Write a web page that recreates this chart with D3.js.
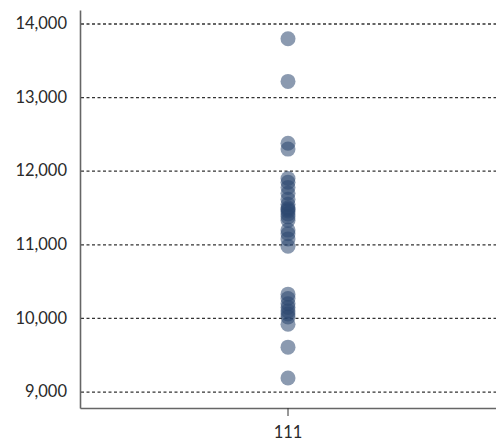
<!DOCTYPE html>
<html>
<head>
<meta charset="utf-8">
<script src="https://cdn.jsdelivr.net/npm/d3@7"></script>
<style>
  body { margin: 0; background: #fff; }
  text { font-family: Lato, "Open Sans", sans-serif; }
</style>
</head>
<body>
<div id="grafico"></div>
<script>
const categorias = ["111"];
const valores = [13800, 13220, 12380, 12300, 11900, 11850, 11780, 11700, 11620, 11550,
                 11500, 11480, 11460, 11420, 11380, 11330, 11200, 11150, 11080, 10980,
                 10330, 10270, 10200, 10150, 10100, 10060, 10020, 9920, 9610, 9190];
const ticksY = [9000, 10000, 11000, 12000, 13000, 14000];

const margin = { top: 10, right: 0, bottom: 35, left: 80 };
const width = 496 - margin.left - margin.right;
const height = 443 - margin.top - margin.bottom;

const svg = d3.select("#grafico")
    .append("svg")
    .attr("width", width + margin.left + margin.right)
    .attr("height", height + margin.top + margin.bottom)
    .append("g")
    .attr("transform", `translate(${margin.left}, ${margin.top})`);

const y = d3.scaleLinear()
    .domain([8783, 14190])
    .range([height, 0]);

const x = d3.scaleBand()
    .domain(categorias)
    .range([0, width]);

// lineas de grilla punteadas
svg.selectAll(".grid")
    .data(ticksY)
    .enter()
    .append("line")
    .attr("x1", 1)
    .attr("x2", width)
    .attr("y1", d => y(d))
    .attr("y2", d => y(d))
    .attr("stroke", "#333")
    .attr("stroke-width", 1.3)
    .attr("stroke-dasharray", "3,2.5");

const ejeY = svg.append("g")
    .call(d3.axisLeft(y).tickValues(ticksY).tickFormat(d3.format(",")).tickSize(0).tickPadding(13))
    .attr("font-size", "16.5px");
ejeY.select(".domain").attr("stroke", "#666").attr("stroke-width", 1.6);
ejeY.selectAll("text").attr("fill", "#2a2a2a").attr("dy", "0.28em");

const ejeX = svg.append("g")
    .attr("transform", `translate(0, ${height})`)
    .call(d3.axisBottom(x).tickSize(8).tickSizeOuter(0).tickPadding(10))
    .attr("font-size", "16.5px");
ejeX.select(".domain").attr("stroke", "#666").attr("stroke-width", 1.6);
ejeX.selectAll(".tick line").attr("stroke", "#333");
ejeX.selectAll("text").attr("fill", "#2a2a2a");

svg.selectAll(".punto")
    .data(valores)
    .enter()
    .append("circle")
    .attr("class", "punto")
    .attr("cx", x("111") + x.bandwidth() / 2)
    .attr("cy", d => y(d))
    .attr("r", 7.5)
    .attr("fill", "#2c4770")
    .attr("fill-opacity", 0.55);
</script>
</body>
</html>
